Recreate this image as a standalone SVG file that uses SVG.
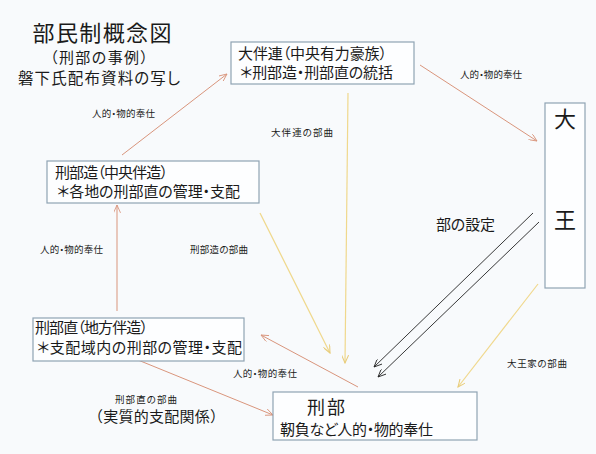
<svg xmlns="http://www.w3.org/2000/svg" width="596" height="454" viewBox="0 0 596 454">
<defs>
<style>
text{font-family:"Noto Sans CJK JP","Noto Sans CJK SC",sans-serif;fill:#1a1a1a;font-feature-settings:"palt"}
.box{fill:#fdfeff;stroke:#8fa3b3;stroke-width:1.2}
.o{stroke:#d9957c;stroke-width:1;fill:none}
.y{stroke:#f0d88c;stroke-width:1.2;fill:none}
.k{stroke:#222;stroke-width:0.9;fill:none}
.s{font-size:9.5px}
.m{font-size:15px}
</style>
<marker id="ao" viewBox="0 0 10 8" refX="9" refY="4" markerWidth="9" markerHeight="7" markerUnits="userSpaceOnUse" orient="auto"><path d="M0,0 L9,4 L0,8" fill="none" stroke="#d9957c" stroke-width="1"/></marker>
<marker id="ay" viewBox="0 0 10 8" refX="9" refY="4" markerWidth="9" markerHeight="7" markerUnits="userSpaceOnUse" orient="auto"><path d="M0,0 L9,4 L0,8" fill="none" stroke="#e8cc7a" stroke-width="1.2"/></marker>
<marker id="ak" viewBox="0 0 10 8" refX="9" refY="4" markerWidth="9" markerHeight="7" markerUnits="userSpaceOnUse" orient="auto"><path d="M0,0 L9,4 L0,8" fill="none" stroke="#222" stroke-width="1"/></marker>
</defs>
<rect width="596" height="454" fill="#f8fafc"/>

<g id="title">
<text x="102" y="41" font-size="22" text-anchor="middle" textLength="139">部民制概念図</text>
<text x="99" y="63" font-size="15" text-anchor="middle" textLength="98">（刑部の事例）</text>
<text x="99" y="84" font-size="15.5" text-anchor="middle" textLength="162">磐下氏配布資料の写し</text>
</g>

<g id="connectors">
<line class="o" x1="122" y1="155" x2="227" y2="74" marker-end="url(#ao)"/>
<line class="o" x1="420" y1="65" x2="537" y2="141" marker-end="url(#ao)"/>
<line class="o" x1="117" y1="311" x2="117" y2="205" marker-end="url(#ao)"/>
<line class="o" x1="358" y1="387" x2="261" y2="335" marker-end="url(#ao)"/>
<line class="o" x1="138" y1="360" x2="273" y2="415" marker-end="url(#ao)"/>
<line class="y" x1="348" y1="93" x2="345" y2="363" marker-end="url(#ay)"/>
<line class="y" x1="260" y1="213" x2="330" y2="353" marker-end="url(#ay)"/>
<line class="y" x1="538" y1="284" x2="458" y2="387" marker-end="url(#ay)"/>
<line class="k" x1="533" y1="213" x2="374" y2="367" marker-end="url(#ak)"/>
<line class="k" x1="539" y1="222" x2="378" y2="377" marker-end="url(#ak)"/>
<text class="s" x="92" y="117" textLength="63">人的・物的奉仕</text>
<text class="s" x="460" y="78" textLength="62">人的・物的奉仕</text>
<text class="s" x="271" y="136" textLength="62">大伴連の部曲</text>
<text class="s" x="40" y="253" textLength="63">人的・物的奉仕</text>
<text class="s" x="190" y="253" textLength="58">刑部造の部曲</text>
<text class="s" x="233" y="377" textLength="64">人的・物的奉仕</text>
<text class="s" x="115" y="403" textLength="62">刑部直の部曲</text>
<text x="88" y="422" font-size="15" textLength="137" style="font-feature-settings:normal">（実質的支配関係）</text>
<text x="436" y="230" font-size="15" textLength="59">部の設定</text>
<text class="s" x="507" y="367" textLength="60">大王家の部曲</text>
</g>

<g id="otomo">
<rect class="box" x="231" y="42" width="183" height="42"/>
<text class="m" x="238" y="59" textLength="149">大伴連（中央有力豪族）</text>
<text class="m" x="240" y="78" textLength="153">＊刑部造・刑部直の統括</text>
</g>

<g id="osakabe-miyatsuko">
<rect class="box" x="47" y="161" width="212" height="42"/>
<text class="m" x="55" y="178" textLength="113">刑部造（中央伴造）</text>
<text class="m" x="57" y="197" textLength="183">＊各地の刑部直の管理・支配</text>
</g>

<g id="osakabe-atai">
<rect class="box" x="33" y="318" width="211" height="43"/>
<text class="m" x="35" y="333" textLength="113">刑部直（地方伴造）</text>
<text class="m" x="37" y="353" textLength="205">＊支配域内の刑部の管理・支配</text>
</g>

<g id="osakabe">
<rect class="box" x="273" y="392" width="204" height="48"/>
<text x="307" y="414" font-size="18" textLength="38">刑部</text>
<text class="m" x="280" y="435" textLength="153">靭負など人的・物的奉仕</text>
</g>

<g id="okimi">
<rect class="box" x="545" y="103" width="40" height="185"/>
<text x="565" y="127" font-size="22" text-anchor="middle">大</text>
<text x="565" y="228" font-size="22" text-anchor="middle">王</text>
</g>
</svg>
